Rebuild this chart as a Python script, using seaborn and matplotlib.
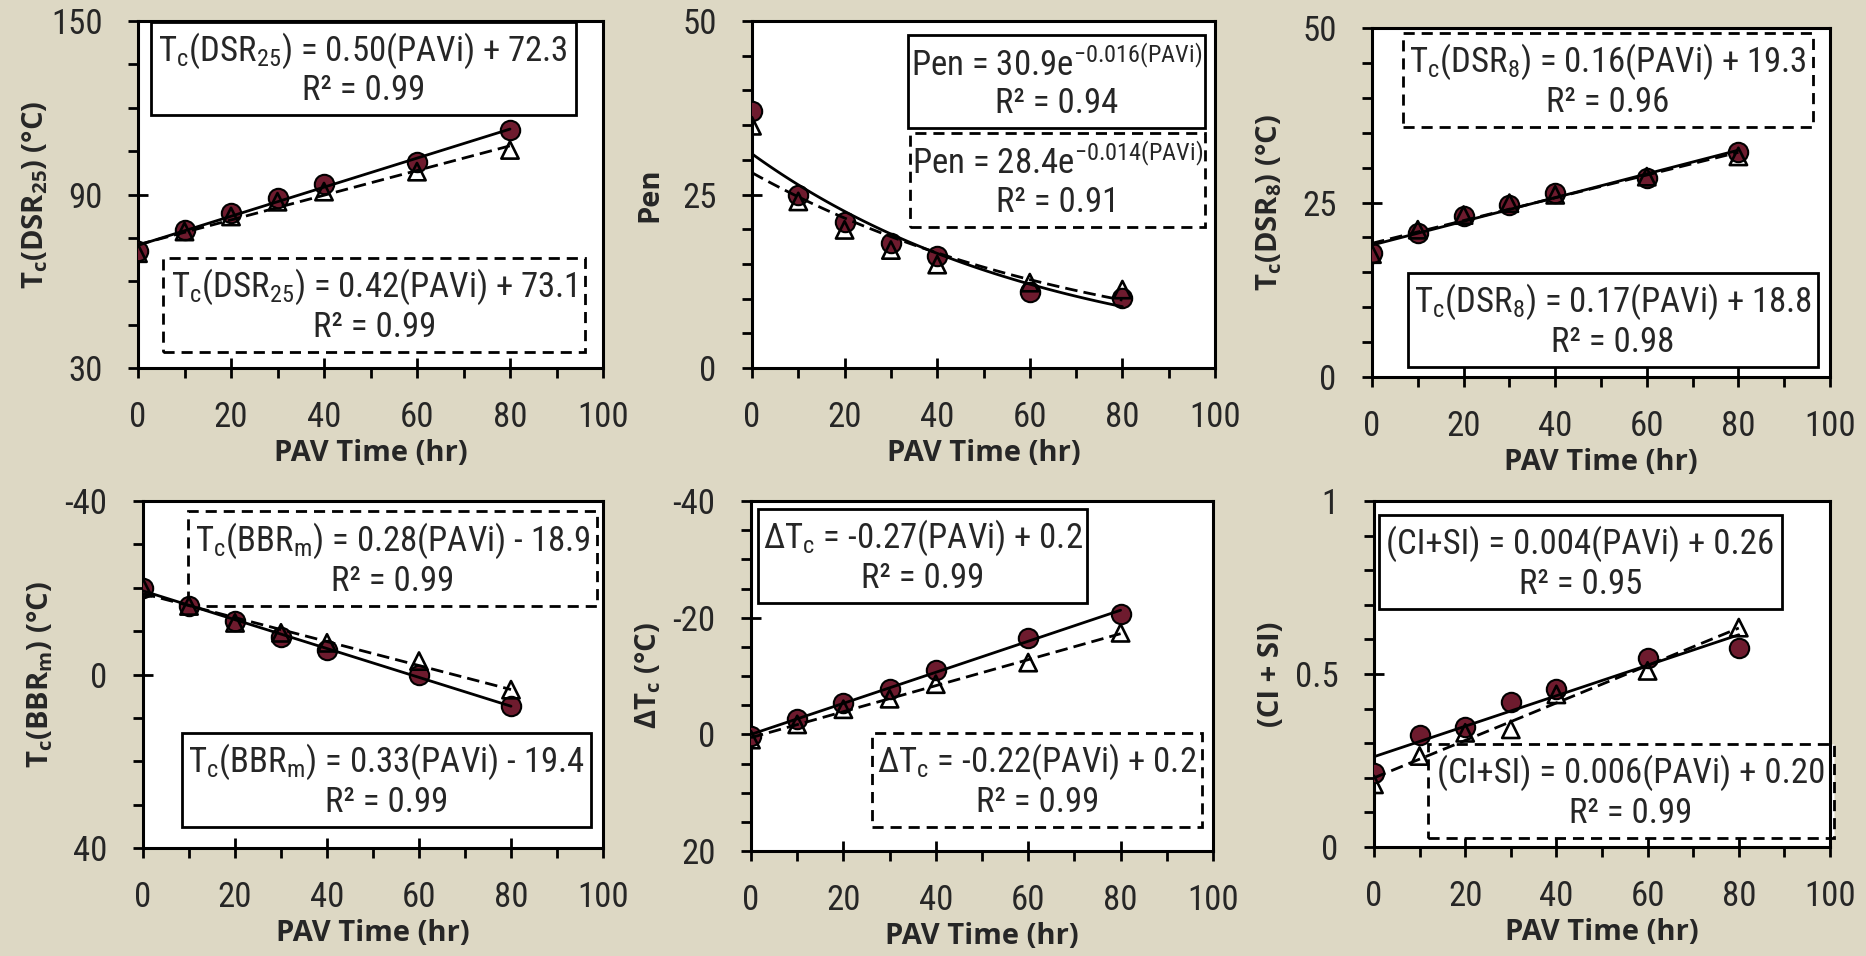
import numpy as np
import matplotlib
matplotlib.use("Agg")
import matplotlib.pyplot as plt
from matplotlib.patches import Rectangle
from matplotlib.ticker import MultipleLocator
import seaborn as sns

# ---------------- DATA ----------------
pav_time = [0, 10, 20, 30, 40, 60, 80]

dsr25_circle = [70.3, 77.8, 83.7, 88.7, 93.5, 101.3, 112.3]
dsr25_tri = [69.7, 77.2, 82.4, 87.5, 91.0, 97.9, 105.4]

pen_circle = [37.0, 24.9, 21.1, 18.0, 16.1, 11.0, 10.1]
pen_tri = [34.9, 24.0, 19.9, 17.0, 14.9, 12.3, 11.3]

dsr8_circle = [17.7, 20.7, 23.0, 24.7, 26.3, 28.5, 32.2]
dsr8_tri = [17.6, 21.1, 23.2, 24.9, 26.1, 28.7, 31.6]

bbr_circle = [-20.0, -15.9, -12.3, -8.7, -5.6, 0.0, 7.3]
bbr_tri = [-20.0, -15.8, -11.9, -9.6, -7.3, -3.1, 3.5]

dtc_circle = [0.3, -2.7, -5.3, -7.8, -11.1, -16.5, -20.7]
dtc_tri = [0.9, -1.7, -4.3, -6.1, -8.6, -12.3, -17.4]

cisi_circle = [0.215, 0.323, 0.348, 0.419, 0.456, 0.547, 0.576]
cisi_tri = [0.181, 0.263, 0.330, 0.340, 0.441, 0.509, 0.634]

# ---------------- STYLE ----------------
BG = "#DDD8C4"
MAROON = "#6E1B2E"
DASH = (0, (4.5, 2.2))
BOX_DASH = (0, (4, 2.5))
EQ_SIZE = 25
LABEL_FONT = dict(family=["Open Sans", "DejaVu Sans"], stretch="condensed",
                  weight="bold", size=21)

sns.set_style("ticks")
plt.rcParams["font.family"] = ["Roboto Condensed", "DejaVu Sans"]
plt.rcParams["mathtext.default"] = "regular"
plt.rcParams["axes.unicode_minus"] = False
plt.rcParams["font.size"] = 25

fig = plt.figure(figsize=(18.66, 9.56), dpi=100, facecolor=BG)
W, H = 1866, 956


def make_axes(left, top, right, bottom):
    ax = fig.add_axes([left / W, (H - bottom) / H, (right - left) / W, (bottom - top) / H])
    return ax, right - left, bottom - top


def eq_box(ax, box, line1, line2, ls):
    x0, y0, x1, y1 = box
    ax.add_patch(Rectangle((x0, y0), x1 - x0, y1 - y0, transform=ax.transAxes,
                           facecolor="white", edgecolor="black", lw=2, ls=ls,
                           clip_on=False, zorder=1.5))
    xc = (x0 + x1) / 2
    h = y1 - y0
    ax.text(xc, y1 - 0.31 * h, line1, ha="center", va="center", fontsize=EQ_SIZE,
            transform=ax.transAxes, zorder=2)
    ax.text(xc, y1 - 0.74 * h, line2, ha="center", va="center", fontsize=EQ_SIZE,
            transform=ax.transAxes, zorder=2)


def style_axes(ax, ylim, ymajor, yminor, ylabel, w, h):
    ax.set_facecolor("white")
    ax.set_xlim(0, 100)
    ax.set_ylim(*ylim)
    ax.set_xticks([0, 20, 40, 60, 80, 100])
    ax.xaxis.set_minor_locator(MultipleLocator(10))
    ax.set_yticks(ymajor)
    ax.yaxis.set_minor_locator(MultipleLocator(yminor))
    ax.tick_params(which="major", direction="inout", length=15, width=2, color="black")
    ax.tick_params(which="minor", direction="out", length=7, width=2, color="black")
    ax.tick_params(axis="x", which="major", pad=16)
    ax.tick_params(axis="y", which="major", pad=18)
    for sp in ax.spines.values():
        sp.set_visible(True)
        sp.set_linewidth(2.2)
        sp.set_color("black")
    ax.set_xlabel("PAV Time (hr)", **LABEL_FONT)
    ax.set_ylabel(ylabel, **LABEL_FONT)
    ax.xaxis.set_label_coords(0.5, -71 / h)
    ax.yaxis.set_label_coords(-88 / w, 0.5)


def draw_points(ax, circles, tris):
    sns.scatterplot(x=pav_time, y=circles, ax=ax, s=195, color=MAROON,
                    edgecolor="black", linewidth=1.5, zorder=3, legend=False)
    ax.scatter(pav_time, tris, s=155, marker="^", facecolors="none",
               edgecolors="black", linewidths=1.9, zorder=4)


def draw_linear(ax, circles, tris):
    sns.regplot(x=pav_time, y=circles, ax=ax, scatter=False, ci=None, truncate=True,
                color="black", line_kws=dict(lw=2, ls="-", zorder=5))
    sns.regplot(x=pav_time, y=tris, ax=ax, scatter=False, ci=None, truncate=True,
                color="black", line_kws=dict(lw=2, ls=DASH, zorder=5))


def draw_expfit(ax, values, ls):
    b, a = np.polyfit(pav_time, np.log(values), 1)
    xx = np.linspace(min(pav_time), max(pav_time), 100)
    sns.lineplot(x=xx, y=np.exp(a) * np.exp(b * xx), ax=ax, color="black", lw=2, ls=ls, zorder=5)


# ---------------- PANEL 1 ----------------
ax, w, h = make_axes(138, 21, 603, 368)
draw_points(ax, dsr25_circle, dsr25_tri)
draw_linear(ax, dsr25_circle, dsr25_tri)
style_axes(ax, (30, 150), [30, 90, 150], 15, r"T$_\mathregular{c}$(DSR$_\mathregular{25}$) (°C)", w, h)
eq_box(ax, (0.028, 0.729, 0.941, 0.997),
       r"T$_\mathregular{c}$(DSR$_\mathregular{25}$) = 0.50(PAVi) + 72.3", "R² = 0.99", "-")
eq_box(ax, (0.054, 0.046, 0.962, 0.317),
       r"T$_\mathregular{c}$(DSR$_\mathregular{25}$) = 0.42(PAVi) + 73.1", "R² = 0.99", BOX_DASH)

# ---------------- PANEL 2 ----------------
ax, w, h = make_axes(752, 21, 1215, 368)
draw_points(ax, pen_circle, pen_tri)
draw_expfit(ax, pen_circle, "-")
draw_expfit(ax, pen_tri, DASH)
style_axes(ax, (0, 50), [0, 25, 50], 5, "Pen", w, h)
eq_box(ax, (0.338, 0.692, 0.979, 0.96),
       r"Pen = 30.9e$^\mathregular{-0.016(PAVi)}$", "R² = 0.94", "-")
eq_box(ax, (0.341, 0.406, 0.979, 0.677),
       r"Pen = 28.4e$^\mathregular{-0.014(PAVi)}$", "R² = 0.91", BOX_DASH)

# ---------------- PANEL 3 ----------------
ax, w, h = make_axes(1372, 28, 1830, 377)
draw_points(ax, dsr8_circle, dsr8_tri)
draw_linear(ax, dsr8_circle, dsr8_tri)
style_axes(ax, (0, 50), [0, 25, 50], 5, r"T$_\mathregular{c}$(DSR$_\mathregular{8}$) (°C)", w, h)
eq_box(ax, (0.068, 0.716, 0.963, 0.986),
       r"T$_\mathregular{c}$(DSR$_\mathregular{8}$) = 0.16(PAVi) + 19.3", "R² = 0.96", BOX_DASH)
eq_box(ax, (0.078, 0.029, 0.974, 0.298),
       r"T$_\mathregular{c}$(DSR$_\mathregular{8}$) = 0.17(PAVi) + 18.8", "R² = 0.98", "-")

# ---------------- PANEL 4 ----------------
ax, w, h = make_axes(143, 501, 603, 848)
draw_points(ax, bbr_circle, bbr_tri)
draw_linear(ax, bbr_circle, bbr_tri)
style_axes(ax, (40, -40), [-40, 0, 40], 10, r"T$_\mathregular{c}$(BBR$_\mathregular{m}$) (°C)", w, h)
eq_box(ax, (0.098, 0.697, 0.987, 0.971),
       r"T$_\mathregular{c}$(BBR$_\mathregular{m}$) = 0.28(PAVi) - 18.9", "R² = 0.99", BOX_DASH)
eq_box(ax, (0.085, 0.061, 0.974, 0.331),
       r"T$_\mathregular{c}$(BBR$_\mathregular{m}$) = 0.33(PAVi) - 19.4", "R² = 0.99", "-")

# ---------------- PANEL 5 ----------------
ax, w, h = make_axes(751, 501, 1213, 851)
draw_points(ax, dtc_circle, dtc_tri)
draw_linear(ax, dtc_circle, dtc_tri)
style_axes(ax, (20, -40), [-40, -20, 0, 20], 5, r"ΔT$_\mathregular{c}$ (°C)", w, h)
eq_box(ax, (0.015, 0.709, 0.728, 0.977),
       r"ΔT$_\mathregular{c}$ = -0.27(PAVi) + 0.2", "R² = 0.99", "-")
eq_box(ax, (0.262, 0.069, 0.977, 0.337),
       r"ΔT$_\mathregular{c}$ = -0.22(PAVi) + 0.2", "R² = 0.99", BOX_DASH)

# ---------------- PANEL 6 ----------------
ax, w, h = make_axes(1374, 501, 1830, 847)
draw_points(ax, cisi_circle, cisi_tri)
draw_linear(ax, cisi_circle, cisi_tri)
style_axes(ax, (0, 1), [0, 0.5, 1], 0.1, "(CI + SI)", w, h)
ax.set_yticklabels(["0", "0.5", "1"])
eq_box(ax, (0.010, 0.688, 0.895, 0.96),
       "(CI+SI) = 0.004(PAVi) + 0.26", "R² = 0.95", "-")
eq_box(ax, (0.118, 0.026, 1.008, 0.298),
       "(CI+SI) = 0.006(PAVi) + 0.20", "R² = 0.99", BOX_DASH)

fig.savefig("out.png", dpi=100, facecolor=BG)
